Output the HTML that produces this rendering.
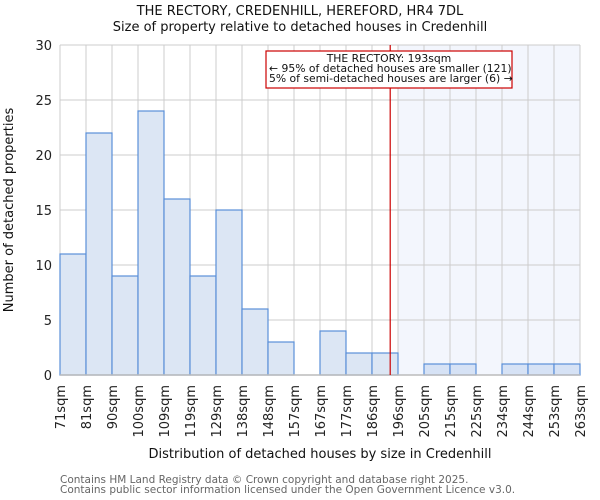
<!DOCTYPE html>
<html><head><meta charset="utf-8"><style>body{margin:0;background:#fff}svg{display:block;font-family:"DejaVu Sans","Liberation Sans",sans-serif}</style></head>
<body>
<svg id="c" width="600" height="500"></svg>
<script>
const binLabels=["71sqm","81sqm","90sqm","100sqm","109sqm","119sqm","129sqm","138sqm","148sqm","157sqm","167sqm","177sqm","186sqm","196sqm","205sqm","215sqm","225sqm","234sqm","244sqm","253sqm","263sqm"];
const counts=[11,22,9,24,16,9,15,6,3,0,4,2,2,0,1,1,0,1,1,1];
const yTicks=[0,5,10,15,20,25,30];
const markerPos=12.7; // bin index position of 193sqm
const shadeFrom=13;
const NS="http://www.w3.org/2000/svg";
const svg=document.getElementById('c');
const L=60,R=580,T=45,B=375,yMax=30;
const bw=(R-L)/counts.length;
const x=i=>L+i*bw, y=v=>B-(v/yMax)*(B-T);
function el(t,a,p){const e=document.createElementNS(NS,t);for(const k in a)e.setAttribute(k,a[k]);(p||svg).appendChild(e);return e;}
let e;
e=el('rect',{x:x(shadeFrom),y:T,width:R-x(shadeFrom),height:B-T,fill:'#f3f6fd'});


for(let i=0;i<=counts.length;i++){e=el('line',{x1:x(i),x2:x(i),y1:T,y2:B,stroke:'#cccccc','stroke-width':1});

}
yTicks.forEach(v=>{e=el('line',{x1:L,x2:R,y1:y(v),y2:y(v),stroke:'#cccccc','stroke-width':1});


e=el('text',{x:L-8,y:y(v)+5,'text-anchor':'end','font-size':13,fill:'#222'});e.textContent=v;

});
counts.forEach((v,i)=>{if(v<=0)return;e=el('rect',{x:x(i),y:y(v),width:bw,height:B-y(v),fill:i>=shadeFrom?'#d6e2f5':'#dce6f4',stroke:'#5a8fd8','stroke-width':1.2});

});
binLabels.forEach((s,i)=>{e=el('text',{transform:`translate(${x(i)+5},385) rotate(-90)`,'text-anchor':'end','font-size':13,fill:'#222'});e.textContent=s;

});
e=el('line',{x1:L,x2:R,y1:B,y2:B,stroke:'#bbbbbb','stroke-width':1.5});


e=el('line',{x1:x(markerPos),x2:x(markerPos),y1:T,y2:B,stroke:'#cc0000','stroke-width':1.2});


const g=el('g',{});


el('rect',{x:266,y:51,width:246,height:37,fill:'#fff',stroke:'#cc0000','stroke-width':1.2},g);
[["THE RECTORY: 193sqm",389,'middle',62],["← 95% of detached houses are smaller (121)",269,'start',72],["5% of semi-detached houses are larger (6) →",269,'start',82]].forEach(a=>{const t=el('text',{x:a[1],y:a[3],'text-anchor':a[2],'font-size':10.8,fill:'#111'},g);t.textContent=a[0];});
function txt(s,a,n){const t=el('text',a);t.textContent=s;}
txt("THE RECTORY, CREDENHILL, HEREFORD, HR4 7DL",{x:300,y:15,'text-anchor':'middle','font-size':13,fill:'#111'},'chart-title');
txt("Size of property relative to detached houses in Credenhill",{x:300,y:31,'text-anchor':'middle','font-size':13,fill:'#111'},'chart-subtitle');
txt("Distribution of detached houses by size in Credenhill",{x:320,y:458,'text-anchor':'middle','font-size':13,fill:'#111'},'x-axis-title');
txt("Number of detached properties",{transform:'translate(13,210) rotate(-90)','text-anchor':'middle','font-size':13,fill:'#111'},'y-axis-title');
txt("Contains HM Land Registry data © Crown copyright and database right 2025.",{x:60,y:483,'font-size':10.5,fill:'#666'},'footer-line-1');
txt("Contains public sector information licensed under the Open Government Licence v3.0.",{x:60,y:493,'font-size':10.5,fill:'#666'},'footer-line-2');
</script>
</body></html>
